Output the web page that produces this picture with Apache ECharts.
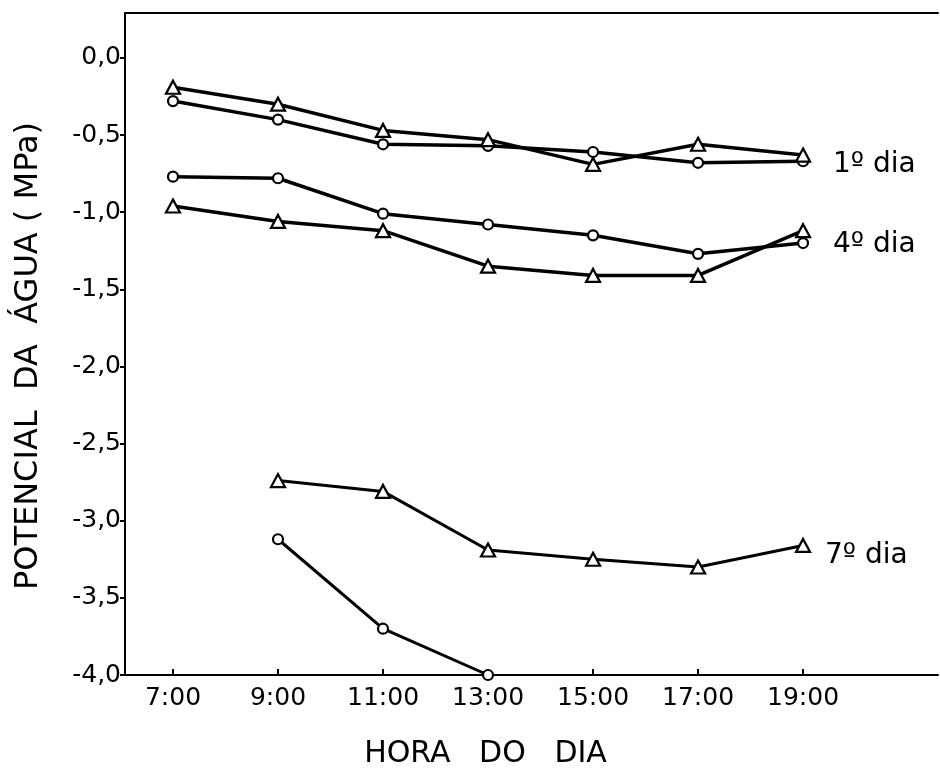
<!DOCTYPE html>
<html>
<head>
<meta charset="utf-8">
<script src="https://cdn.jsdelivr.net/npm/echarts@6/dist/echarts.min.js"></script>
<style>
html,body{margin:0;padding:0;background:#fff;}
#chart{width:940px;height:774px;}
</style>
</head>
<body>
<div id="chart"></div>
<script>
// ---- data ----
var hours = [7, 9, 11, 13, 15, 17, 19];
var hourTicks = [7, 9, 11, 13, 15, 17, 19];
var yTicks = [-4, -3.5, -3, -2.5, -2, -1.5, -1, -0.5, 0];

var dia1Circulo   = [-0.28, -0.40, -0.56, -0.57, -0.61, -0.68, -0.67];
var dia1Triangulo = [-0.19, -0.30, -0.47, -0.53, -0.69, -0.56, -0.63];
var dia4Circulo   = [-0.77, -0.78, -1.01, -1.08, -1.15, -1.27, -1.20];
var dia4Triangulo = [-0.96, -1.06, -1.12, -1.35, -1.41, -1.41, -1.12];
var dia7Circulo   = [null, -3.12, -3.70, -4.00, null, null, null];
var dia7Triangulo = [null, -2.74, -2.81, -3.19, -3.25, -3.30, -3.16];

var labelDia1 = '1º dia';
var labelDia4 = '4º dia';
var labelDia7 = '7º dia';

var xTitle = 'HORA   DO   DIA';
var yTitle = 'POTENCIAL  DA  ÁGUA ( MPa)';

function pairs(vals) {
  var out = [];
  for (var i = 0; i < hours.length; i++) {
    if (vals[i] !== null) out.push([hours[i], vals[i]]);
  }
  return out;
}

var FONT = 'DejaVu Sans';

function mkSeries(vals, shape, lw, endLbl) {
  var s = {
    type: 'line',
    data: pairs(vals),
    clip: false,
    symbol: shape,
    symbolSize: shape === 'circle' ? 10 : [14, 13],
    showAllSymbol: true,
    lineStyle: { color: '#000', width: lw },
    itemStyle: { color: '#fff', borderColor: '#000', borderWidth: 2.2 },
    emphasis: { disabled: true },
    z: 3
  };
  if (endLbl) {
    s.endLabel = {
      show: true,
      formatter: endLbl.text,
      distance: endLbl.distance,
      offset: endLbl.offset,
      color: '#000',
      fontFamily: FONT,
      fontSize: 28
    };
  }
  return s;
}

var chart = echarts.init(document.getElementById('chart'), null, { renderer: 'canvas' });

chart.setOption({
  animation: false,
  backgroundColor: '#fff',
  grid: { left: 125, right: 2, top: 13, bottom: 98, containLabel: false },
  xAxis: [{
    type: 'value',
    min: 6.086,
    max: 21.57,
    position: 'bottom',
    axisLine: { show: true, onZero: false, lineStyle: { color: '#000', width: 2 } },
    axisTick: { show: true, inside: true, length: 6, customValues: hourTicks, lineStyle: { color: '#000', width: 2 } },
    axisLabel: {
      show: true, customValues: hourTicks, margin: 11,
      color: '#000', fontFamily: FONT, fontSize: 25,
      formatter: function (v) { return v + ':00'; }
    },
    splitLine: { show: false },
    name: xTitle,
    nameLocation: 'middle',
    nameGap: 64,
    nameTextStyle: { color: '#000', fontFamily: FONT, fontSize: 30, padding: [0, 92, 0, 0] }
  }, {
    type: 'value',
    min: 6.086,
    max: 21.57,
    position: 'top',
    axisLine: { show: true, onZero: false, lineStyle: { color: '#000', width: 2 } },
    axisTick: { show: false },
    axisLabel: { show: false },
    splitLine: { show: false }
  }],
  yAxis: {
    type: 'value',
    min: -4,
    max: 0.291,
    interval: 0.5,
    axisLine: { show: true, onZero: false, lineStyle: { color: '#000', width: 2 } },
    axisTick: { show: true, inside: false, length: 5, customValues: yTicks, lineStyle: { color: '#000', width: 2 } },
    axisLabel: {
      show: true, customValues: yTicks, margin: 4,
      color: '#000', fontFamily: FONT, fontSize: 25,
      formatter: function (v) { return v.toFixed(1).replace('.', ','); }
    },
    splitLine: { show: false },
    name: yTitle,
    nameLocation: 'middle',
    nameGap: 80,
    nameTextStyle: { color: '#000', fontFamily: FONT, fontSize: 32, padding: [0, 24, 0, 0] }
  },
  series: [
    mkSeries(dia1Circulo, 'circle', 3.5, null),
    mkSeries(dia1Triangulo, 'triangle', 3.5, { text: labelDia1, distance: 30, offset: [0, 10] }),
    mkSeries(dia4Triangulo, 'triangle', 3.5, null),
    mkSeries(dia4Circulo, 'circle', 3.5, { text: labelDia4, distance: 30, offset: [0, 2] }),
    mkSeries(dia7Triangulo, 'triangle', 3, { text: labelDia7, distance: 22, offset: [0, 10] }),
    mkSeries(dia7Circulo, 'circle', 3, null)
  ]
});
</script>
</body>
</html>
